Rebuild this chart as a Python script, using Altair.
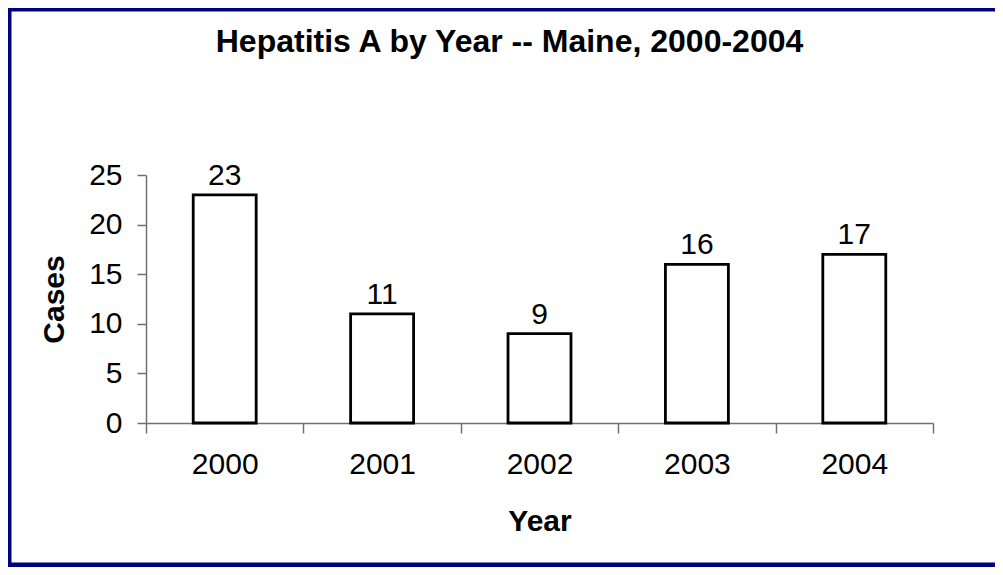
import altair as alt
import pandas as pd

years = ["2000", "2001", "2002", "2003", "2004"]
cases = [23, 11, 9, 16, 17]
y_ticks = [0, 5, 10, 15, 20, 25]
title_text = "Hepatitis A by Year -- Maine, 2000-2004"

df = pd.DataFrame({"year": years, "cases": cases})
FONT = "Liberation Sans, Arial, sans-serif"

base = alt.Chart(df)

x_enc = alt.X(
    "year:N",
    sort=years,
    scale=alt.Scale(paddingInner=0, paddingOuter=0),
    axis=alt.Axis(
        title="Year", labelAngle=0, tickBand="extent", tickSize=10,
        labelPadding=16, titlePadding=27,
    ),
)
y_enc = alt.Y(
    "cases:Q",
    scale=alt.Scale(domain=[0, 25], nice=False),
    axis=alt.Axis(
        title="Cases", values=y_ticks, grid=False, tickSize=9,
        labelPadding=15, titlePadding=19,
    ),
)

bars = base.mark_bar(
    width={"band": 0.4}, fill="white", stroke="black", strokeWidth=2.8
).encode(x=x_enc, y=y_enc)

labels = base.mark_text(
    baseline="alphabetic", dy=-10, fontSize=30, font=FONT, color="black"
).encode(x=alt.X("year:N", sort=years), y=alt.Y("cases:Q"), text=alt.Text("cases:Q"))

frame = alt.Chart(pd.DataFrame({"f": [0]})).mark_rect(
    fill=None, stroke="#000080", strokeWidth=5
).encode(
    x=alt.value(-137), x2=alt.value(880),
    y=alt.value(-166), y2=alt.value(390),
)

chart = alt.layer(frame, bars, labels).properties(
    width=787,
    height=248,
    padding={"left": 138, "top": 167, "right": 62, "bottom": 144},
    autosize=alt.AutoSizeParams(type="none"),
    background="white",
    title=alt.TitleParams(
        text=title_text, fontSize=32, font=FONT, fontWeight="bold",
        anchor="middle", frame="group", dx=-30, dy=52, offset=0, color="black",
    ),
).configure_view(stroke=None).configure_axis(
    labelFont=FONT, labelFontSize=30, labelColor="black",
    titleFont=FONT, titleFontSize=30, titleFontWeight="bold", titleColor="black",
    domainColor="#707070", domainWidth=1.5, tickColor="#707070", tickWidth=1.5,
)

chart.save("out.html", embed_options={"renderer": "svg", "actions": False})
